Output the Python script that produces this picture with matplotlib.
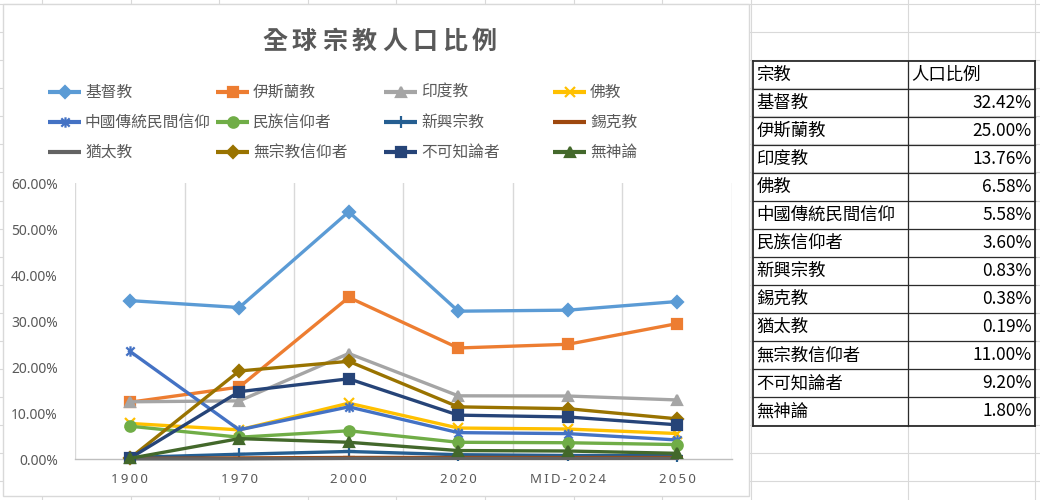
import numpy as np
import matplotlib.pyplot as plt
from matplotlib.patches import Rectangle
from matplotlib.path import Path

plt.rcParams['font.family'] = ['Noto Sans CJK TC', 'DejaVu Sans']

# 資料 (%)
years = ['1900', '1970', '2000', '2020', 'MID-2024', '2050']
religions = ['基督教', '伊斯蘭教', '印度教', '佛教', '中國傳統民間信仰', '民族信仰者',
             '新興宗教', '錫克教', '猶太教', '無宗教信仰者', '不可知論者', '無神論']

christianity = [34.5, 33.0, 53.8, 32.2, 32.42, 34.3]
islam = [12.4, 15.7, 35.2, 24.2, 25.00, 29.5]
hinduism = [12.5, 12.7, 23.0, 13.8, 13.76, 12.9]
buddhism = [7.8, 6.4, 12.2, 6.8, 6.58, 5.6]
chinese_folk = [23.5, 6.4, 11.4, 5.8, 5.58, 4.2]
ethnic = [7.2, 4.8, 6.2, 3.7, 3.60, 3.2]
new_religions = [0.4, 1.1, 1.7, 1.0, 0.83, 0.8]
sikhism = [0.2, 0.3, 0.4, 0.4, 0.38, 0.4]
judaism = [0.1, 0.1, 0.2, 0.2, 0.19, 0.2]
non_religious = [0.2, 19.2, 21.3, 11.4, 11.00, 8.8]
agnostics = [0.2, 14.7, 17.5, 9.6, 9.20, 7.5]
atheists = [0.2, 4.5, 3.7, 1.9, 1.80, 1.3]

series_values = [christianity, islam, hinduism, buddhism, chinese_folk, ethnic,
                 new_religions, sikhism, judaism, non_religious, agnostics, atheists]

table_header = ['宗教', '人口比例']
table_pct = ['32.42%', '25.00%', '13.76%', '6.58%', '5.58%', '3.60%',
             '0.83%', '0.38%', '0.19%', '11.00%', '9.20%', '1.80%']

# Excel 的星號標記: x 加一條直線
asterisk = Path([(-1, -1), (1, 1), (-1, 1), (1, -1), (0, -1.25), (0, 1.25)],
                [Path.MOVETO, Path.LINETO] * 3)

colors = ['#5B9BD5', '#ED7D31', '#A5A5A5', '#FFC000', '#4472C4', '#70AD47',
          '#255E91', '#9E480E', '#636363', '#997300', '#264478', '#43682B']
markers = ['D', 's', '^', 'x', asterisk, 'o', '+', '_', None, 'D', 's', '^']
msizes = [6, 7.5, 7.5, 7, 7.5, 7.5, 8, 8, 0, 6, 7.5, 7.5]

gray_text = '#595959'

fig = plt.figure(figsize=(10.4, 5.0), dpi=100)

# 背景 (工作表格線 + 表格)
bg = fig.add_axes([0, 0, 1, 1])
bg.set_xlim(0, 1040)
bg.set_ylim(500, 0)
bg.axis('off')

col_x = list(42 + 88.6 * np.arange(9)) + [907.5, 1034.5]
for cx in col_x:
    bg.plot([cx, cx], [0, 500], color='#D9D9D9', lw=0.8, zorder=0)
for ry in 4 + 28.08 * np.arange(-1, 19):
    bg.plot([0, 1040], [ry, ry], color='#D9D9D9', lw=0.8, zorder=0)

bg.add_patch(Rectangle((3, 4), 746, 492, facecolor='white', edgecolor='#D9D9D9',
                       lw=1, zorder=1))

# 標題
title = '全球宗教人口比例'
for i, ch in enumerate(title):
    bg.text(379.5 + (i - 3.5) * 30, 42, ch, fontsize=18, fontweight='bold',
            color=gray_text, ha='center', va='center', zorder=2)

# 圖例
leg_x = [48, 216, 384, 553]
leg_y = [92, 122, 152]
for i, name in enumerate(religions):
    x0 = leg_x[i % 4]
    y0 = leg_y[i // 4]
    bg.plot([x0, x0 + 33], [y0, y0], color=colors[i], lw=3, zorder=2,
            solid_capstyle='butt')
    if markers[i] is not None:
        bg.plot([x0 + 16.5], [y0], marker=markers[i], color=colors[i],
                markersize=msizes[i], mew=1.6, zorder=3)
    bg.text(x0 + 37, y0, name, fontsize=11.3, color=gray_text, va='center', zorder=2)

# 表格
t_left, t_mid, t_right = 752.5, 907.5, 1034.5
row_top = 60.5
row_h = 28.08
n_rows = len(religions) + 1
for r in range(n_rows + 1):
    yy = row_top + r * row_h
    lw = 1.3 if r in (0, n_rows) else 0.9
    bg.plot([t_left, t_right], [yy, yy], color='#2b2b2b', lw=lw, zorder=2)
for xx in (t_left, t_mid, t_right):
    lw = 0.9 if xx == t_mid else 1.3
    bg.plot([xx, xx], [row_top, row_top + n_rows * row_h], color='#2b2b2b',
            lw=lw, zorder=2)
bg.text(t_left + 4, row_top + row_h / 2, table_header[0], fontsize=12.5,
        va='center', color='black', zorder=3)
bg.text(t_mid + 4, row_top + row_h / 2, table_header[1], fontsize=12.5,
        va='center', color='black', zorder=3)
for r, (name, pct) in enumerate(zip(religions, table_pct)):
    yc = row_top + (r + 1.5) * row_h
    bg.text(t_left + 4, yc, name, fontsize=12.5, va='center', color='black', zorder=3)
    bg.text(t_right - 3, yc, pct, fontsize=12.5, va='center', ha='right',
            color='black', zorder=3)

# 折線圖
ax = fig.add_axes([75 / 1040, (500 - 459.3) / 500, 657 / 1040, 276 / 500])
ax.set_zorder(3)
ax.patch.set_alpha(0)

x = np.arange(len(years))
for i, vals in enumerate(series_values):
    ax.plot(x, np.array(vals) / 100, color=colors[i], lw=2.4,
            marker=markers[i], markersize=msizes[i], mew=1.6, clip_on=False,
            zorder=3 + i)

for b in np.arange(-0.5, len(years) + 0.5):
    ax.axvline(b, color='#D9D9D9', lw=1, zorder=1)

ax.set_xlim(-0.5, len(years) - 0.5)
ax.set_ylim(0, 0.6)
ax.set_yticks(np.arange(0, 0.61, 0.1))
ax.set_yticklabels([f'{v * 100:.2f}%' for v in np.arange(0, 0.61, 0.1)],
                   fontsize=10, color=gray_text, family=['Noto Sans', 'DejaVu Sans'])
ax.set_xticks(x)
ax.set_xticklabels(['\u2009'.join(y) for y in years], fontsize=9.5, color=gray_text,
                   family=['Noto Sans', 'DejaVu Sans'])
ax.tick_params(axis='both', length=0)
ax.tick_params(axis='y', pad=12.5)
ax.tick_params(axis='x', pad=10)
for side in ('top', 'right', 'left'):
    ax.spines[side].set_visible(False)
ax.spines['bottom'].set_color('#BFBFBF')
ax.spines['bottom'].set_linewidth(1)

fig.savefig('out.png', dpi=100)
